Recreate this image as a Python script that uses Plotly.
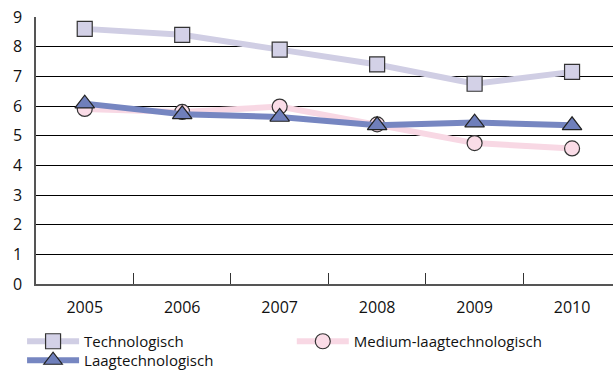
import plotly.graph_objects as go

years = ["2005", "2006", "2007", "2008", "2009", "2010"]
technologisch = [8.6, 8.4, 7.9, 7.4, 6.75, 7.15]
medium_laag = [5.9, 5.8, 5.98, 5.38, 4.75, 4.57]
laag = [6.08, 5.72, 5.63, 5.35, 5.44, 5.35]

fig = go.Figure()
fig.add_trace(go.Scatter(
    x=years, y=technologisch, name="Technologisch", mode="lines+markers",
    line=dict(color="#d0cee4", width=6),
    marker=dict(symbol="square", size=15, color="#d3d1e7", line=dict(color="#333333", width=1.2)),
    legend="legend",
))
fig.add_trace(go.Scatter(
    x=years, y=medium_laag, name="Medium-laagtechnologisch", mode="lines+markers",
    line=dict(color="#f8d8e4", width=6),
    marker=dict(symbol="circle", size=15, color="#fadce7", line=dict(color="#333333", width=1.2)),
    legend="legend2",
))
fig.add_trace(go.Scatter(
    x=years, y=laag, name="Laagtechnologisch", mode="lines+markers",
    line=dict(color="#7686c1", width=6),
    marker=dict(symbol="triangle-up", size=17, color="#6f7fbb", line=dict(color="#222222", width=1.2)),
    legend="legend3",
))

legend_common = dict(
    orientation="v", xref="container", yref="container", yanchor="top", xanchor="left",
    font=dict(size=15, color="#111111"), itemwidth=52, tracegroupgap=0,
    bgcolor="rgba(0,0,0,0)",
)

fig.update_layout(
    width=613, height=372,
    margin=dict(l=36, r=0, t=17, b=88, autoexpand=False),
    paper_bgcolor="white", plot_bgcolor="white",
    font=dict(family="Open Sans", size=16, color="#111111"),
    showlegend=True,
    legend=dict(x=0.036, y=1 - 325 / 372, **legend_common),
    legend2=dict(x=0.476, y=1 - 325 / 372, **legend_common),
    legend3=dict(x=0.036, y=1 - 344 / 372, **legend_common),
    xaxis=dict(
        type="category", range=[-0.5, 5.42],
        showgrid=False, showline=True, linecolor="#555555", linewidth=1.5,
        ticks="inside", tickson="boundaries", ticklen=11, tickcolor="#333333",
        tickfont=dict(size=16), ticklabelstandoff=8, fixedrange=True,
    ),
    yaxis=dict(
        range=[0, 9], dtick=1, showgrid=True, gridcolor="#000000", gridwidth=1,
        showline=True, linecolor="#555555", linewidth=1.5, zeroline=False,
        ticks="", tickfont=dict(size=16), ticklabelstandoff=9,
    ),
)

fig.write_html("out.html", config={"displayModeBar": False},
               post_script="document.body.style.margin='0';")
